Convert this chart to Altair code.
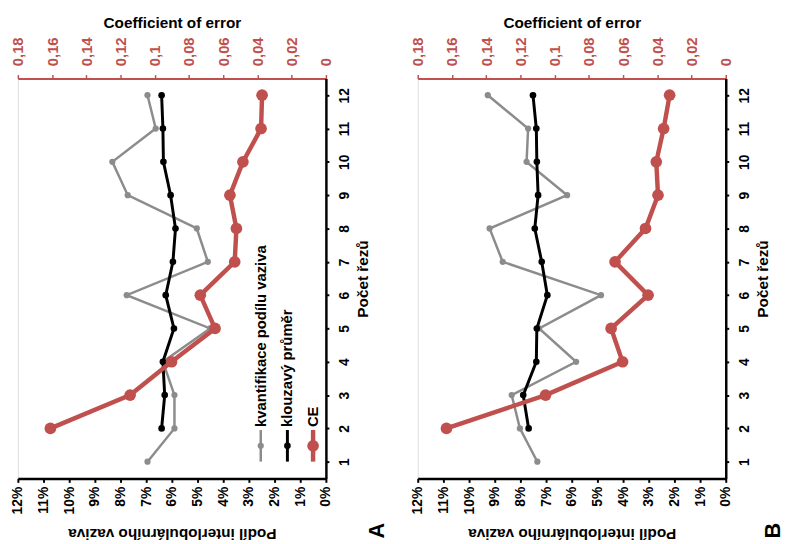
import altair as alt
import pandas as pd

# ---------------- data ----------------
cats = list(range(1, 13))

# panel A
a_quant = [6.95, 5.90, 5.90, 6.35, 4.51, 7.76, 4.60, 5.03, 7.72, 8.32, 6.63, 6.95]   # %
a_avg = [None, 6.40, 6.28, 6.35, 5.92, 6.24, 5.96, 5.86, 6.05, 6.33, 6.35, 6.40]      # %
a_ce = [None, 0.161, 0.1144, 0.0902, 0.0648, 0.0734, 0.0533, 0.0523, 0.0561, 0.0485, 0.0379, 0.0373]

# panel B
b_quant = [7.34, 8.02, 8.34, 5.83, 7.27, 4.86, 8.69, 9.20, 6.18, 7.76, 7.70, 9.27]   # %
b_avg = [None, 7.68, 7.89, 7.38, 7.36, 6.95, 7.17, 7.44, 7.31, 7.36, 7.38, 7.51]      # %
b_ce = [None, 0.1632, 0.1053, 0.0603, 0.0670, 0.0454, 0.0647, 0.0469, 0.0396, 0.0406, 0.0363, 0.0328]

pct_ticks = [i / 100 for i in range(13)]
ce_ticks = [round(i * 0.02, 2) for i in range(10)]

legend_labels = ["kvantifikace podílu vaziva", "klouzavý průměr", "CE"]
panel_labels = ["A", "B"]

# ---------------- style ----------------
W, H = 312, 405
RED = "#c0504d"
GRAY = "#8c8c8c"
BLACK = "#000000"
FONT = "Liberation Sans"


def frame(vals, scale=1.0):
    rows = [(c, v * scale) for c, v in zip(cats, vals) if v is not None]
    return pd.DataFrame(rows, columns=["n", "v"])


ysc = alt.Scale(domain=[0.5, 12.5], nice=False, zero=False)
yax = alt.Axis(
    orient="right", values=cats, title="Počet řezů", labelAngle=270, titleAngle=270,
    titleBaseline="top", grid=False, domainColor=BLACK, domainWidth=2.5, tickColor=BLACK,
    tickWidth=2, tickSize=3, labelFontSize=14, labelFontWeight="bold", labelColor=BLACK,
    titleFontSize=15.5, titleFontWeight="bold", titleColor=BLACK, labelPadding=9, titlePadding=4,
    labelFont=FONT, titleFont=FONT,
)

pct_scale = alt.Scale(domain=[0, 0.12], reverse=True, nice=False, zero=True)
pct_axis = alt.Axis(
    orient="bottom", values=pct_ticks, format=".0%", labelAngle=270,
    title="Podíl interlobulárního vaziva", titleAngle=180, titleBaseline="bottom",
    grid=False, domainColor=BLACK, domainWidth=2.5, tickColor=BLACK, tickWidth=2, tickSize=4,
    labelFontSize=14, labelFontWeight="bold", labelColor=BLACK, titleFontSize=15.5,
    titleFontWeight="bold", titleColor=BLACK, labelPadding=4, titlePadding=12,
    labelFont=FONT, titleFont=FONT, labelFlush=False,
)

ce_scale = alt.Scale(domain=[0, 0.18], reverse=True, nice=False, zero=True)
ce_axis = alt.Axis(
    orient="top", values=ce_ticks,
    labelExpr="replace(format(datum.value, '.2~f'), '.', ',')",
    labelAngle=270, title="Coefficient of error", titleAngle=0, grid=False,
    domainColor=RED, domainWidth=2, tickColor=RED, tickWidth=1.5, tickSize=4,
    labelFontSize=15, labelColor=RED, labelFontWeight="bold", titleFontSize=15.5,
    titleFontWeight="bold", titleColor=BLACK, labelPadding=9, titlePadding=6,
    labelFont=FONT, titleFont=FONT, labelFlush=False,
)


def series(df, color, width, size, xscale, xaxis):
    base = alt.Chart(df)
    enc = dict(
        x=alt.X("v:Q", scale=xscale, axis=xaxis),
        y=alt.Y("n:Q", scale=ysc, axis=yax),
    )
    line = base.mark_line(color=color, strokeWidth=width).encode(
        order=alt.Order("n:Q"), **enc
    )
    pts = base.mark_circle(color=color, size=size, opacity=1).encode(**enc)
    return [line, pts]


def one_row():
    return alt.Data(values=[{"k": 1}])


def legend_layers():
    layers = []
    xs = [246, 273, 299]
    colors = [GRAY, BLACK, RED]
    widths = [2.5, 3, 4.5]
    sizes = [40, 45, 140]
    for lab, x, c, w, s in zip(legend_labels, xs, colors, widths, sizes):
        layers.append(
            alt.Chart(one_row()).mark_rule(color=c, strokeWidth=w).encode(
                x=alt.value(x), y=alt.value(356), y2=alt.value(388)
            )
        )
        layers.append(
            alt.Chart(one_row()).mark_circle(color=c, size=s, opacity=1).encode(
                x=alt.value(x), y=alt.value(372)
            )
        )
        layers.append(
            alt.Chart(one_row()).mark_text(
                angle=270, align="left", baseline="middle", font=FONT,
                fontSize=15, fontWeight="bold", color=BLACK,
            ).encode(x=alt.value(x), y=alt.value(353), text=alt.value(lab))
        )
    return layers


def panel(quant, avg, ce, label, with_legend, letter_dx):
    pct = alt.layer(
        *series(frame(quant, 0.01), GRAY, 2.5, 40, pct_scale, pct_axis),
        *series(frame(avg, 0.01), BLACK, 3, 45, pct_scale, pct_axis),
    )
    red = alt.layer(*series(frame(ce), RED, 4.5, 140, ce_scale, ce_axis))
    extra = legend_layers() if with_legend else []
    letter = alt.Chart(one_row()).mark_text(
        angle=270, align="center", baseline="middle", font=FONT,
        fontSize=22, fontWeight="bold", color=BLACK,
    ).encode(x=alt.value(W + letter_dx), y=alt.value(H + 53), text=alt.value(label))
    return alt.layer(pct, red, *extra, letter).resolve_scale(x="independent").properties(
        width=W, height=H
    )


chart = alt.hconcat(
    panel(a_quant, a_avg, a_ce, panel_labels[0], True, 52),
    panel(b_quant, b_avg, b_ce, panel_labels[1], False, 48),
    spacing=21,
).configure_view(stroke=None).configure(padding={"left": 2, "top": 4, "right": 0, "bottom": 0})

chart.save("out.html", embed_options={"renderer": "svg", "actions": False})
